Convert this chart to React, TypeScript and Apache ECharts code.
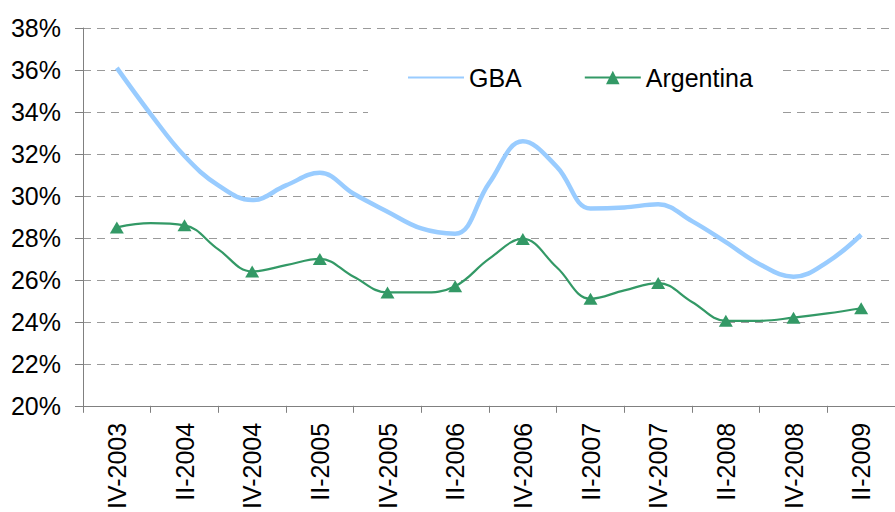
import React, { useEffect, useRef } from "react";
import * as echarts from "echarts";

// Quarters (padding quarter at each end keeps the axis frame like the original)
const quarters = [
  "III-2003",
  "IV-2003", "I-2004", "II-2004", "III-2004", "IV-2004",
  "I-2005", "II-2005", "III-2005", "IV-2005",
  "I-2006", "II-2006", "III-2006", "IV-2006",
  "I-2007", "II-2007", "III-2007", "IV-2007",
  "I-2008", "II-2008", "III-2008", "IV-2008",
  "I-2009", "II-2009",
  "III-2009",
];

// Values from IV-2003 to II-2009 (percent)
const gba = [
  36.1, 33.9, 31.9, 30.5, 29.8, 30.5, 31.1, 30.1, 29.25, 28.45, 28.2,
  30.6, 32.6, 31.4, 29.4, 29.45, 29.6, 28.8, 27.8, 26.75, 26.15, 26.85, 28.15,
];
const argentina = [
  28.5, 28.7, 28.6, 27.45, 26.4, 26.7, 27.0, 26.15, 25.4, 25.4, 25.7,
  27.0, 27.95, 26.6, 25.1, 25.5, 25.85, 24.95, 24.05, 24.05, 24.2, 24.4, 24.65,
];

const FONT = "'Liberation Sans', Arial, sans-serif";

export default function App() {
  const ref = useRef<HTMLDivElement>(null);

  useEffect(() => {
    if (!ref.current) return;
    const chart = echarts.init(ref.current, null, { renderer: "svg" });

    const gbaData = [null, ...gba, null];
    const argData: any[] = [
      null,
      ...argentina.map((v, i) => (i % 2 === 0 ? v : { value: v, symbol: "none" })),
      null,
    ];

    chart.setOption({
      animation: false,
      backgroundColor: "#ffffff",
      textStyle: { fontFamily: FONT },
      grid: { left: 83, top: 28, width: 816, height: 378, containLabel: false },
      legend: {
        left: 368,
        top: 29,
        padding: [36, 30, 38, 39],
        backgroundColor: "#ffffff",
        itemWidth: 56,
        itemHeight: 17,
        itemGap: 62,
        textStyle: { fontSize: 25, color: "#000000", fontFamily: FONT },
        data: [
          { name: "GBA", itemStyle: { opacity: 0 } },
          { name: "Argentina" },
        ],
      },
      xAxis: {
        type: "category",
        boundaryGap: false,
        data: quarters,
        axisLine: { lineStyle: { color: "#808080", width: 1 } },
        axisTick: {
          show: true,
          length: 7,
          interval: (i: number) => i % 2 === 0,
          lineStyle: { color: "#808080" },
        },
        axisLabel: {
          rotate: 90,
          margin: 17,
          interval: (i: number) => i % 2 === 1,
          fontSize: 25,
          color: "#000000",
          fontFamily: FONT,
        },
        splitLine: { show: false },
      },
      yAxis: {
        type: "value",
        min: 20,
        max: 38,
        interval: 2,
        axisLine: { show: true, lineStyle: { color: "#808080", width: 1 } },
        axisTick: { show: true, length: 8, lineStyle: { color: "#808080" } },
        axisLabel: {
          formatter: "{value}%",
          margin: 22,
          fontSize: 25,
          color: "#000000",
          fontFamily: FONT,
        },
        splitLine: {
          show: true,
          lineStyle: { color: "#9a9a9a", type: [8, 6], width: 1 },
        },
      },
      series: [
        {
          name: "GBA",
          type: "line",
          data: gbaData,
          smooth: 0.4,
          symbol: "none",
          lineStyle: { color: "#99CCFF", width: 4.5 },
          itemStyle: { color: "#99CCFF" },
          z: 3,
        },
        {
          name: "Argentina",
          type: "line",
          data: argData,
          smooth: 0.4,
          symbol: "triangle",
          symbolSize: [14, 12],
          showAllSymbol: true,
          lineStyle: { color: "#339966", width: 2.2 },
          itemStyle: { color: "#339966" },
          z: 3,
        },
      ],
    });

    return () => chart.dispose();
  }, []);

  return (
    <div
      ref={ref}
      style={{ position: "absolute", left: 0, top: 0, width: 895, height: 512 }}
    />
  );
}
